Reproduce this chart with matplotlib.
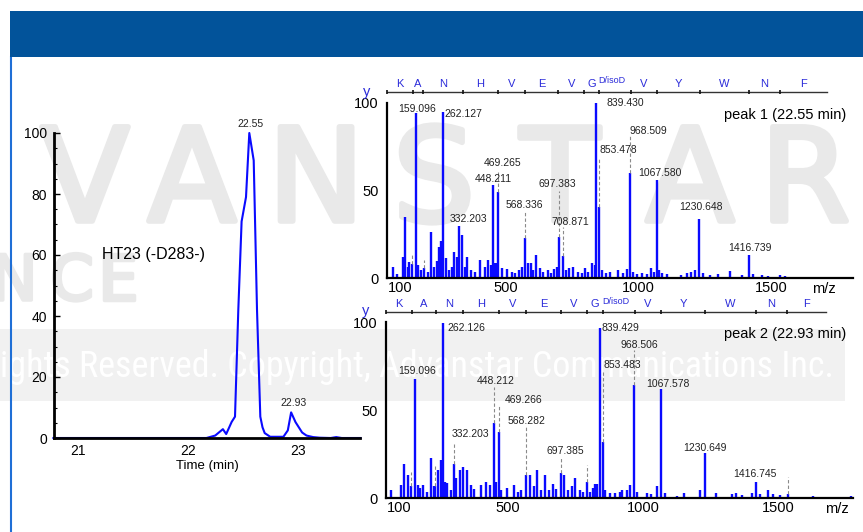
import matplotlib
matplotlib.use("Agg")
import matplotlib.pyplot as plt
from matplotlib.patches import Rectangle
from matplotlib.lines import Line2D
from matplotlib import font_manager as fm
import matplotlib.patheffects as pe
import matplotlib.transforms as mtransforms

plt.rcParams["font.family"] = ["Liberation Sans", "DejaVu Sans"]

W, H = 863, 532
BLUE = "#0a0aff"
LADDER_BLUE = "#2b2bd9"

# chromatogram (extracted ion trace, relative intensity)
chrom_time = [20.78, 21.5, 22.0, 22.17, 22.25, 22.32, 22.35, 22.40, 22.43, 22.46,
              22.49, 22.53, 22.56, 22.60, 22.63, 22.66, 22.68, 22.70, 22.75, 22.87,
              22.91, 22.94, 22.98, 23.04, 23.08, 23.14, 23.20, 23.30, 23.35, 23.40, 23.57]
chrom_int = [0, 0, 0, 0, 0.8, 2.9, 1.3, 5.3, 7.0, 42,
             71, 79, 100, 91, 42, 7, 3.5, 1.6, 0.4, 0.4,
             2.5, 8.4, 5.2, 1.8, 0.8, 0.3, 0.1, 0, 0.3, 0, 0]
chrom_peaks = [(22.57, 103, "22.55"), (22.96, 11.5, "22.93")]

# spectrum 1 (peak 1, 22.55 min)
top_mz = [71, 86, 109, 118, 128, 134, 145, 159.1, 168, 178, 189, 203, 218, 228, 237,
          246, 254, 262.1, 272, 284, 294, 304, 313, 323, 334, 344, 352, 367, 382, 402,
          420, 433, 443, 450, 458, 464, 470, 483, 502, 521, 534, 549, 559, 570, 584,
          594, 603, 613, 628, 641, 657, 670, 680, 691, 700, 713, 725, 738, 754, 771,
          786, 798, 811, 826, 834, 839.4, 852, 861, 877, 894, 923, 942, 955, 969, 979,
          994, 1014, 1033, 1048, 1057, 1068, 1078, 1090, 1106, 1162, 1184, 1200, 1213, 1229, 1244,
          1269, 1301, 1345, 1389, 1417, 1433, 1465, 1490, 1534, 1553]
top_int = [6.5, 2.3, 12.2, 35, 6.5, 9, 8.2, 94, 7.6, 4.6, 5.5, 3.6, 26.5, 6.5, 10,
           17.5, 21, 95, 11.4, 4.6, 6.5, 15, 12.2, 29.5, 24.7, 6.5, 12.2, 4.6, 3.6, 10.5,
           6.5, 10.5, 7.6, 53, 8.3, 8.6, 49, 5.5, 5.1, 3.6, 2.7, 4.6, 6.5, 23, 8.3,
           8.6, 4.6, 13, 5.5, 3.6, 4.6, 3, 4.9, 6.5, 23.7, 12.5, 4.6, 6, 6.5, 3.6,
           2.7, 6, 3.6, 8.3, 7.6, 100, 40.7, 4.6, 2.7, 3.6, 4.6, 2.7, 4.9, 59.8, 3.6,
           2.3, 3, 2.3, 5.5, 3.6, 56, 4.6, 3, 2.3, 1.9, 2.7, 3.6, 4.6, 34, 2.7,
           1.9, 2.3, 3.9, 1.9, 13, 2.3, 1.9, 1.3, 1.9, 0.95]
top_labels = [("159.096", 163, 96.6, "center"), ("262.127", 268, 93.7, "left"),
              ("839.430", 880, 100, "left"), ("968.509", 967, 84, "left"),
              ("853.478", 854, 73, "left"), ("469.265", 486, 66, "center"),
              ("448.211", 452, 56.6, "center"), ("697.383", 695, 53.7, "center"),
              ("568.336", 569, 42, "center"), ("332.203", 359, 34, "center"),
              ("708.871", 744, 32, "center"), ("1067.580", 1082, 60, "center"),
              ("1230.648", 1237, 40.6, "center"), ("1416.739", 1422, 17, "center")]
top_leaders = [(145, 8.2, 14.5), (189, 5.5, 10.5), (470, 49, 62), (570, 23, 38),
               (700, 23.7, 50), (713, 12.5, 29), (852, 40.7, 69), (969, 59.8, 81)]
top_ladder = [50, 147, 186, 336, 470, 570, 696, 795, 851, 971, 1070, 1232, 1416, 1533, 1710]

# spectrum 2 (peak 2, 22.93 min)
bot_mz = [68, 107, 117, 133, 144, 157, 167, 176, 186, 202, 217, 226, 232, 242, 252,
          261, 267, 277, 292, 301, 310, 323, 334, 350, 363, 377, 402, 420, 433, 449,
          457, 468, 476, 498, 523, 538, 550, 566, 583, 596, 609, 624, 636, 651, 667,
          679, 695, 708, 722, 737, 750, 766, 778, 793, 803, 815, 824, 831, 840, 852,
          861, 877, 896, 914, 924, 939, 951, 967, 978, 1013, 1031, 1050, 1066, 1083, 1124,
          1151, 1210, 1228, 1269, 1327, 1345, 1364, 1401, 1417, 1432, 1460, 1481, 1506, 1537, 1574,
          1629, 1767]
bot_int = [4.4, 7.6, 19.5, 13.1, 6.6, 67.4, 7.6, 5.5, 7.6, 3.6, 23, 6.6, 6.6, 16, 21.6,
           99.2, 9.3, 8.3, 4.4, 19.5, 11.4, 16, 17.5, 16, 7.6, 4.9, 7.6, 8.9, 7.6, 42.4,
           9.3, 37.7, 4.4, 5.5, 7.6, 3.6, 4.4, 13.1, 13.1, 6.6, 16, 4.4, 13.1, 4.4, 7.8,
           4.9, 14.4, 13.1, 4.4, 6.6, 11.4, 4.4, 3.6, 9.3, 3.6, 5.5, 7.8, 7.8, 96.4, 31.9,
           4.4, 2.7, 3, 3.6, 4.4, 4.4, 7.6, 64.2, 3.6, 2.7, 2.3, 6.6, 61.7, 2.7, 1.1,
           2.7, 4.4, 25.4, 2.7, 2.3, 2.7, 1.7, 2.7, 9.3, 2.3, 4.5, 2.3, 1.7, 2.3, 0.8,
           1.1, 1.1]
bot_labels = [("262.126", 278.5, 96.6, "left"), ("159.096", 166, 72, "center"),
              ("448.212", 456, 66.5, "center"), ("469.266", 489, 55.7, "left"),
              ("568.282", 568.5, 43.7, "center"), ("332.203", 361.6, 36.4, "center"),
              ("697.385", 714.5, 26.7, "center"), ("839.429", 847.5, 96.6, "left"),
              ("968.506", 988, 87, "center"), ("853.483", 853, 75.6, "left"),
              ("1067.578", 1091, 65, "center"), ("1230.649", 1228, 28.4, "center"),
              ("1416.745", 1413, 13.6, "center")]
bot_leaders = [(144, 6.6, 15), (232, 6.6, 18), (301, 19.5, 32), (449, 42.4, 63),
               (468, 37.7, 52.8), (566, 13.1, 41.5), (695, 14.4, 22.7), (793, 9.3, 18.7),
               (852, 31.9, 72.7), (967, 64.2, 84), (1537, 2.3, 12)]
bot_ladder = [50, 147, 233, 335, 468, 569, 696, 793, 852, 969, 1068, 1228, 1417, 1532, 1678]

residues = ["K", "A", "N", "H", "V", "E", "V", "G", "D/isoD", "V", "Y", "W", "N", "F"]
mz_ticks = [100, 500, 1000, 1500]

COPY_TEXT = "ights Reserved. Copyright, Advanstar Communications Inc."


def fig_rect(x0, y0, x1, y1):
    # pixel box (top-left origin) -> figure fraction [l, b, w, h]
    return [x0 / W, 1 - y1 / H, (x1 - x0) / W, (y1 - y0) / H]


def find_narrow_font():
    prefs = ["liberation sans narrow", "roboto condensed", "open sans condensed",
             "noto sans condensed", "dejavu sans"]
    cands = []
    for f in fm.fontManager.ttflist:
        name = f.name.lower()
        stretch = str(f.stretch).lower()
        narrow = "narrow" in name or "condensed" in name or "condensed" in stretch
        if narrow and f.style == "normal" and str(f.weight) in ("400", "normal", "regular"):
            cands.append(f)
    for p in prefs:
        for f in cands:
            if p in f.name.lower():
                return f.fname
    return cands[0].fname if cands else None


fig = plt.figure(figsize=(W / 100, H / 100), dpi=100)
fig.patch.set_facecolor("white")

# header bar and frame line
fig.patches.append(Rectangle((10 / W, 1 - 57 / H), 853 / W, 46 / H, transform=fig.transFigure,
                             facecolor="#02539a", edgecolor="none", zorder=5))
fig.lines.append(Line2D([11 / W, 11 / W], [0, 1 - 57 / H], transform=fig.transFigure,
                        color="#1f6fd6", lw=1.5, zorder=5))

# watermark
wm = "#e9e9e9"
for ch, xp in zip("VANSTAR", [85, 192, 316, 434, 560, 690, 805]):
    fig.text(xp / W, 1 - 221 / H, ch, fontsize=93, color=wm, ha="center", va="baseline",
             family=["DejaVu Sans"], zorder=-3,
             path_effects=[pe.withStroke(linewidth=4, foreground=wm)])
for ch, xp in zip("NCE", [14, 72, 118]):
    fig.text(xp / W, 1 - 300 / H, ch, fontsize=45, color=wm, ha="center", va="baseline",
             family=["DejaVu Sans"], zorder=-3,
             path_effects=[pe.withStroke(linewidth=2.5, foreground=wm)])
fig.patches.append(Rectangle((0, 1 - 401 / H), 845 / W, 72 / H, transform=fig.transFigure,
                             facecolor="#f1f1f1", edgecolor="none", zorder=-4))
narrow_path = find_narrow_font()
if narrow_path:
    fp = fm.FontProperties(fname=narrow_path, size=33)
else:
    fp = fm.FontProperties(family=["Liberation Sans"], size=33)
copy_txt = fig.text(0, 1 - 377 / H, COPY_TEXT, fontproperties=fp, color="white",
                    ha="left", va="baseline", zorder=-2)
renderer = fig.canvas.get_renderer()
wpx = copy_txt.get_window_extent(renderer).width
if wpx > 836:
    fp.set_size(33 * 836 / wpx)
    copy_txt.set_fontproperties(fp)

# chromatogram
ax = fig.add_axes(fig_rect(54, 133, 360, 438))
ax.patch.set_visible(False)
ax.plot(chrom_time, chrom_int, color=BLUE, lw=1.5, clip_on=False)
for t, v, s in chrom_peaks:
    ax.text(t, v, s, fontsize=7.5, ha="center", va="center", color="#222222")
ax.text(21.22, 60, "HT23 (-D283-)", fontsize=11.5, ha="left", va="center")
ax.set_xlim(20.785, 23.566)
ax.set_ylim(0, 100)
ax.set_xticks([21, 22, 23])
ax.set_yticks([0, 20, 40, 60, 80, 100])
ax.set_yticks(range(0, 101, 5), minor=True)
ax.tick_params(axis="y", which="major", direction="in", length=4, width=1, labelsize=10, pad=5)
ax.tick_params(axis="y", which="minor", direction="in", length=2.5, width=0.8)
ax.tick_params(axis="x", length=0, labelsize=10, pad=4)
ax.set_xlabel("Time (min)", fontsize=9.5, labelpad=2)
for sp in ["top", "right"]:
    ax.spines[sp].set_visible(False)
ax.spines["left"].set_linewidth(2)
ax.spines["bottom"].set_linewidth(2)


def spectrum(box, xlim, mz, inten, labels, leaders, ladder, title, ladder_y, letter_y, mz_x):
    a = fig.add_axes(fig_rect(*box))
    a.patch.set_visible(False)
    a.vlines(mz, 0, inten, color=BLUE, lw=1.7)
    for m, y0, y1 in leaders:
        a.plot([m, m], [y0, y1], color="#8a8a8a", lw=0.8, ls=(0, (3, 2)))
    for s, x, y, ha in labels:
        a.text(x, y, s, fontsize=7.5, ha=ha, va="center", color="#222222")
    a.text(0.985, 0.93, title, transform=a.transAxes, fontsize=10.5, ha="right", va="center")
    a.set_xlim(*xlim)
    a.set_ylim(0, 100)
    a.set_xticks(mz_ticks)
    a.set_yticks([0, 50, 100])
    a.tick_params(length=0, labelsize=10.5, pad=2)
    a.tick_params(axis="y", pad=6)
    for sp in ["top", "right"]:
        a.spines[sp].set_visible(False)
    a.spines["left"].set_linewidth(1.6)
    a.spines["bottom"].set_linewidth(1.6)
    a.text(mz_x, -0.025, "m/z", transform=a.transAxes, fontsize=10.5, ha="right", va="top")

    # sequence ladder above the spectrum
    tr = mtransforms.blended_transform_factory(a.transData, a.transAxes)
    a.plot([ladder[0], ladder[-1]], [ladder_y, ladder_y], color="#333333", lw=1,
           transform=tr, clip_on=False)
    a.vlines(ladder[:-1], ladder_y - 0.012, ladder_y + 0.012, color="#111111", lw=1.2,
             transform=tr, clip_on=False)
    for i, r in enumerate(residues):
        mid = (ladder[i] + ladder[i + 1]) / 2
        if r == "D/isoD":
            a.text(ladder[i] - 2, letter_y + 0.02, r, fontsize=6.5, color=LADDER_BLUE,
                   ha="left", va="baseline", transform=tr)
        else:
            a.text(mid, letter_y, r, fontsize=8, color=LADDER_BLUE, ha="center",
                   va="baseline", transform=tr)
    a.text(-0.043, ladder_y - 0.02, "y", transform=a.transAxes, fontsize=10.5,
           color=LADDER_BLUE, ha="center", va="baseline")
    return a


spectrum((387, 103, 853, 278), (50, 1810), top_mz, top_int, top_labels, top_leaders,
         top_ladder, "peak 1 (22.55 min)", 1.061, 1.092, 0.963)
spectrum((386, 322, 853, 498), (50, 1776), bot_mz, bot_int, bot_labels, bot_leaders,
         bot_ladder, "peak 2 (22.93 min)", 1.0585, 1.085, 0.99)

fig.savefig("out.png", dpi=100)
